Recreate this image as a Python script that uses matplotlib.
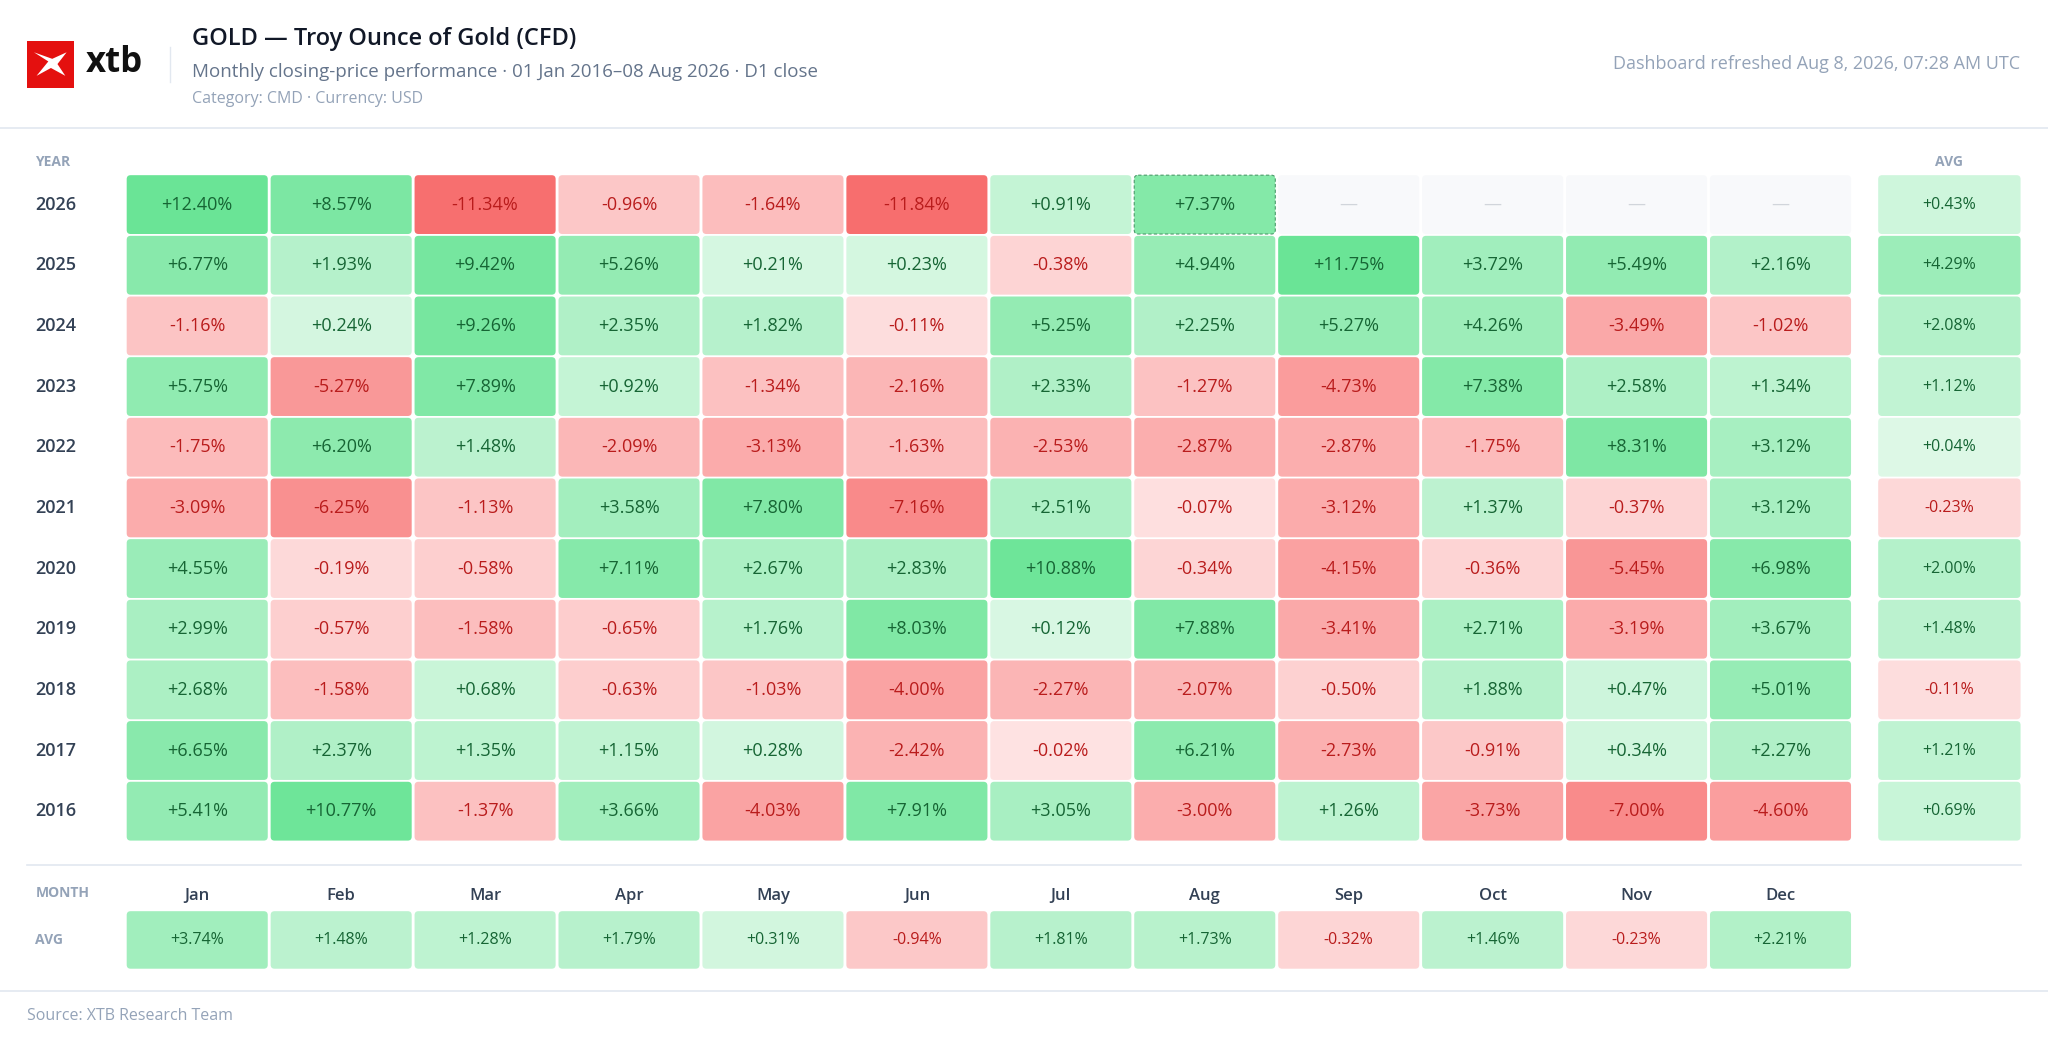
import numpy as np
import matplotlib.pyplot as plt
from matplotlib.patches import FancyBboxPatch, Rectangle, Polygon

plt.rcParams['font.family'] = ['Open Sans', 'DejaVu Sans']

years = [2026, 2025, 2024, 2023, 2022, 2021, 2020, 2019, 2018, 2017, 2016]
months = ["Jan", "Feb", "Mar", "Apr", "May", "Jun", "Jul", "Aug", "Sep", "Oct", "Nov", "Dec"]
nan = np.nan
returns = [
    [12.40, 8.57, -11.34, -0.96, -1.64, -11.84, 0.91, 7.37, nan, nan, nan, nan],
    [6.77, 1.93, 9.42, 5.26, 0.21, 0.23, -0.38, 4.94, 11.75, 3.72, 5.49, 2.16],
    [-1.16, 0.24, 9.26, 2.35, 1.82, -0.11, 5.25, 2.25, 5.27, 4.26, -3.49, -1.02],
    [5.75, -5.27, 7.89, 0.92, -1.34, -2.16, 2.33, -1.27, -4.73, 7.38, 2.58, 1.34],
    [-1.75, 6.20, 1.48, -2.09, -3.13, -1.63, -2.53, -2.87, -2.87, -1.75, 8.31, 3.12],
    [-3.09, -6.25, -1.13, 3.58, 7.80, -7.16, 2.51, -0.07, -3.12, 1.37, -0.37, 3.12],
    [4.55, -0.19, -0.58, 7.11, 2.67, 2.83, 10.88, -0.34, -4.15, -0.36, -5.45, 6.98],
    [2.99, -0.57, -1.58, -0.65, 1.76, 8.03, 0.12, 7.88, -3.41, 2.71, -3.19, 3.67],
    [2.68, -1.58, 0.68, -0.63, -1.03, -4.00, -2.27, -2.07, -0.50, 1.88, 0.47, 5.01],
    [6.65, 2.37, 1.35, 1.15, 0.28, -2.42, -0.02, 6.21, -2.73, -0.91, 0.34, 2.27],
    [5.41, 10.77, -1.37, 3.66, -4.03, 7.91, 3.05, -3.00, 1.26, -3.73, -7.00, -4.60],
]
year_avg = [0.43, 4.29, 2.08, 1.12, 0.04, -0.23, 2.00, 1.48, -0.11, 1.21, 0.69]
month_avg = [3.74, 1.48, 1.28, 1.79, 0.31, -0.94, 1.81, 1.73, -0.32, 1.46, -0.23, 2.21]

W, H = 1568, 794
fig = plt.figure(figsize=(20.48, 10.38), dpi=100)
ax = fig.add_axes([0, 0, 1, 1])
ax.set_xlim(0, W)
ax.set_ylim(H, 0)
ax.axis('off')

g0, g1 = np.array([0xe2, 0xf9, 0xea]) / 255, np.array([0x6a, 0xe4, 0x96]) / 255
r0, r1 = np.array([0xfe, 0xe6, 0xe6]) / 255, np.array([0xf7, 0x6e, 0x6e]) / 255


def cell_color(v):
    t = min(abs(v) / 11.5, 1) ** 0.55
    if v >= 0:
        return g0 + (g1 - g0) * t, '#166534'
    return r0 + (r1 - r0) * t, '#b91c1c'


def cell(x, y, w, h, v, fs, dashed=False):
    if np.isnan(v):
        ax.add_patch(FancyBboxPatch((x, y), w, h, boxstyle="round,pad=0,rounding_size=3",
                                    fc='#f8f9fb', ec='none'))
        ax.text(x + w / 2, y + h / 2, "—", ha='center', va='center', color='#d1d5db', fontsize=fs)
        return
    fc, tc = cell_color(v)
    ax.add_patch(FancyBboxPatch((x, y), w, h, boxstyle="round,pad=0,rounding_size=3", fc=fc,
                                ec='#4b9b6a' if dashed else 'none', ls=(0, (3, 2)), lw=0.8))
    ax.text(x + w / 2, y + h / 2, f"{v:+.2f}%", ha='center', va='center', color=tc, fontsize=fs)


# header
ax.add_patch(Rectangle((21, 31), 36, 36, fc='#e4100f', ec='none'))
ax.add_patch(Polygon([(26, 40), (37, 47), (28, 58), (39, 52), (50, 58), (44, 49), (51, 40), (40, 45)],
                     fc='white', ec='none'))
ax.text(66, 48, "xtb", ha='left', va='center', fontsize=25, color='#111111', fontweight='bold')
ax.plot([130, 130], [36, 63], color='#e2e8f0', lw=1)
ax.text(147, 30, "GOLD — Troy Ounce of Gold (CFD)", ha='left', va='center', fontsize=17,
        color='#111827', fontweight='semibold')
ax.text(147, 55, "Monthly closing-price performance · 01 Jan 2016–08 Aug 2026 · D1 close",
        ha='left', va='center', fontsize=13.5, color='#64748b')
ax.text(147, 76, "Category: CMD · Currency: USD", ha='left', va='center', fontsize=11.5, color='#94a3b8')
ax.text(1547, 49, "Dashboard refreshed Aug 8, 2026, 07:28 AM UTC", ha='right', va='center',
        fontsize=13, color='#94a3b8')
ax.plot([0, W], [98, 98], color='#e2e8f0', lw=1.2)

# grid
x0, dx, cw = 97, 110.2, 108
y0, dy, ch = 134, 46.4, 45
ax.text(27, 124, "YEAR", ha='left', va='center', fontsize=10, color='#94a3b8', fontweight='bold')
ax.text(1492, 124, "AVG", ha='center', va='center', fontsize=10, color='#94a3b8', fontweight='bold')
for i, yr in enumerate(years):
    y = y0 + i * dy
    ax.text(27, y + ch / 2, str(yr), ha='left', va='center', fontsize=13, color='#334155',
            fontweight='semibold')
    for j in range(12):
        cell(x0 + j * dx, y, cw, ch, returns[i][j], 13, dashed=(i == 0 and j == 7))
    cell(1438, y, 109, ch, year_avg[i], 11.5)

ax.plot([21, 1547], [662, 662], color='#e2e8f0', lw=1.2)
ax.text(27, 683, "MONTH", ha='left', va='center', fontsize=10, color='#94a3b8', fontweight='bold')
ax.text(27, 719, "AVG", ha='left', va='center', fontsize=10, color='#94a3b8', fontweight='bold')
for j, m in enumerate(months):
    ax.text(x0 + j * dx + cw / 2, 685, m, ha='center', va='center', fontsize=12, color='#334155',
            fontweight='semibold')
    cell(x0 + j * dx, 697, cw, 44, month_avg[j], 11.5)

ax.plot([0, W], [758, 758], color='#e2e8f0', lw=1.2)
ax.text(21, 777, "Source: XTB Research Team", ha='left', va='center', fontsize=11.5, color='#94a3b8')

fig.savefig("out.png", dpi=100, facecolor='white')
